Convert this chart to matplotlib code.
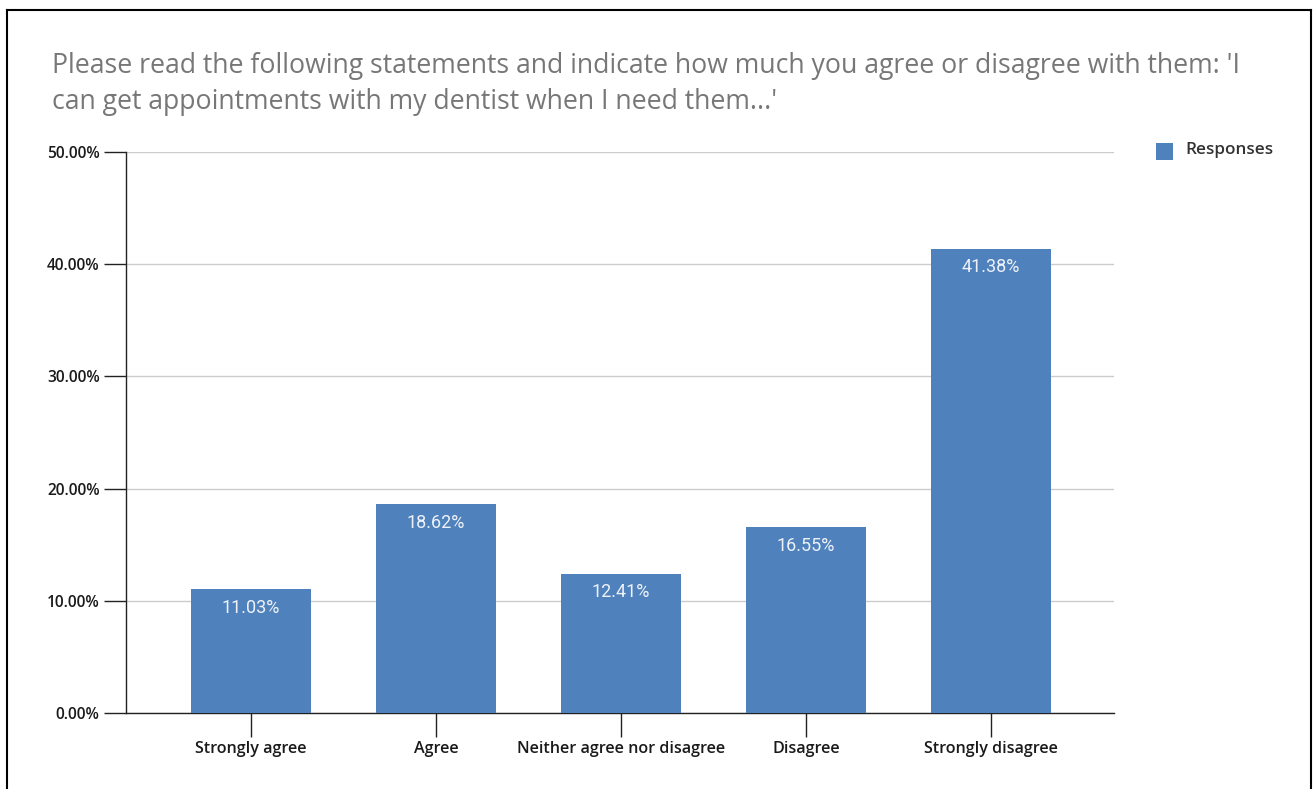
import matplotlib
matplotlib.use("Agg")
import matplotlib.pyplot as plt
from matplotlib.lines import Line2D

categories = ["Strongly agree", "Agree", "Neither agree nor disagree", "Disagree", "Strongly disagree"]
values = [11.03, 18.62, 12.41, 16.55, 41.38]
yticks = [0, 10, 20, 30, 40, 50]
ytick_labels = ["0.00%", "10.00%", "20.00%", "30.00%", "40.00%", "50.00%"]
title = ("Please read the following statements and indicate how much you agree or disagree with them: 'I\n"
         "can get appointments with my dentist when I need them...'")
series_name = "Responses"

W, H = 1315, 789
fig = plt.figure(figsize=(W / 100, H / 100), dpi=100)
fig.patch.set_facecolor("white")

ax = fig.add_axes([126 / W, 1 - 713 / H, (1114 - 126) / W, (713 - 152) / H])
bar_color = "#4f81bd"
x = list(range(len(categories)))
bars = ax.bar(x, values, width=0.65, color=bar_color, zorder=3)

ax.set_xlim(-0.676, 4.665)
ax.set_ylim(0, 50)
ax.set_yticks(yticks)
ax.set_yticklabels(ytick_labels)
ax.set_xticks(x)
ax.set_xticklabels(categories)

for s in ["top", "right"]:
    ax.spines[s].set_visible(False)
ax.spines["left"].set_color("#222222")
ax.spines["bottom"].set_color("#222222")
ax.spines["left"].set_linewidth(1.0)
ax.spines["bottom"].set_linewidth(1.0)

ax.grid(axis="y", color="#cccccc", linewidth=1.0, zorder=0)
ax.set_axisbelow(True)

ax.tick_params(axis="y", length=16, width=1, color="#222222", pad=3, labelsize=11.2, labelcolor="#1a1a1a")
ax.tick_params(axis="x", length=17, width=1, color="#222222", pad=3, labelsize=11.6, labelcolor="#1a1a1a")
for lab in ax.get_xticklabels() + ax.get_yticklabels():
    lab.set_fontfamily("Open Sans")
    lab.set_fontweight("semibold")

for b, v in zip(bars, values):
    ax.annotate(f"{v:.2f}%", (b.get_x() + b.get_width() / 2, v), xytext=(0, -7),
                textcoords="offset points", ha="center", va="top",
                color="#eef2f8", fontsize=13, fontfamily="Roboto", zorder=4)

fig.text(52 / W, 1 - 84 / H, title, ha="left", va="center", fontsize=19.2, color="#777777",
         fontfamily="Open Sans", linespacing=1.4)

# legend
fig.patches.append(plt.Rectangle((1156 / W, 1 - 160 / H), 17 / W, 17 / H, transform=fig.transFigure,
                                 facecolor=bar_color, edgecolor="none"))
fig.text(1185 / W, 1 - 150 / H, series_name, ha="left", va="center", fontsize=12.3,
         color="#333333", fontfamily="Open Sans", fontweight="semibold")

# outer border (bottom edge off-canvas)
for xs, ys in [((7 / W, 7 / W), (-0.05, 1 - 10 / H)),
               ((7 / W, 1311 / W), (1 - 10 / H, 1 - 10 / H)),
               ((1311 / W, 1311 / W), (1 - 10 / H, -0.05))]:
    fig.add_artist(Line2D(xs, ys, transform=fig.transFigure, color="black", linewidth=1.5))

fig.savefig("out.png", dpi=100)
